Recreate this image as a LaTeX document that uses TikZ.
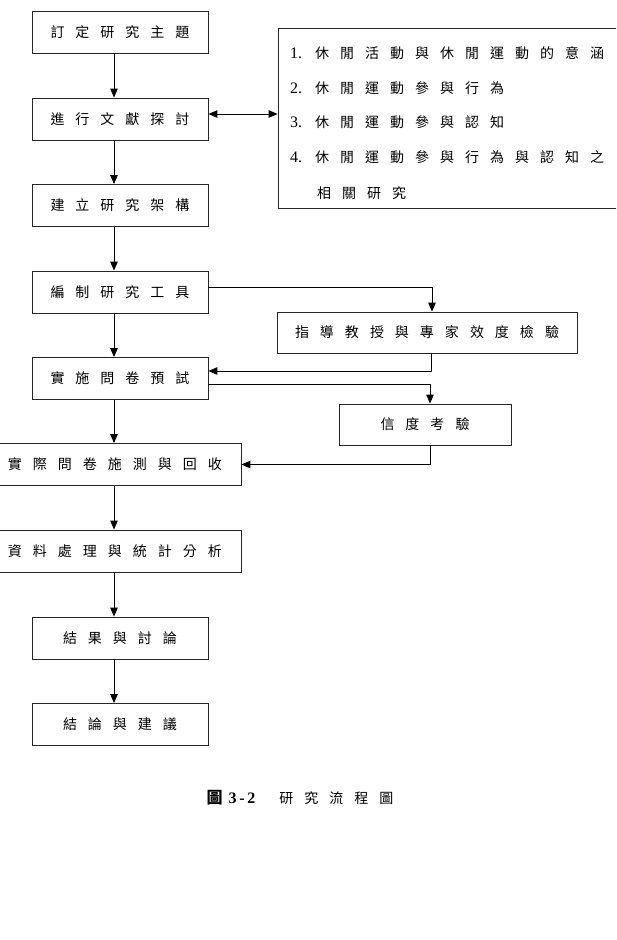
\documentclass[tikz,border=0pt]{standalone}
\usepackage{fontspec}
\setmainfont{Liberation Serif}
\newfontfamily\cjk{Noto Sans CJK TC}
\usetikzlibrary{arrows.meta}

% wide tracking between CJK characters
\newlength\cgap
\setlength\cgap{11pt}
\makeatletter
\def\spaced#1{\sp@loop#1\relax}
\def\sp@loop#1#2{#1\ifx\relax#2\else\hspace{\cgap}\expandafter\sp@loop\expandafter#2\fi}
\makeatother
\newcommand\cjktext{\cjk\fontsize{14}{14}\selectfont}

\tikzset{
  box/.style={draw=black!85, line width=0.85pt, minimum height=42pt, inner sep=0pt,
              font=\cjktext},
  item/.style={anchor=west, inner sep=0pt, font=\fontsize{16}{16}\selectfont},
  tip/.tip={Triangle[length=9pt,width=7.5pt]},
  arr/.style={line width=0.9pt, -tip},
  dbl/.style={line width=0.9pt, tip-tip},
}

\begin{document}
\begin{tikzpicture}[x=1pt, y=-1pt]
\path[use as bounding box] (0,0) rectangle (616,940);
\clip (0,0) rectangle (616,940);

% main column
\node[box, minimum width=176pt] (b1) at (120,32)    {\spaced{訂定研究主題}};
\node[box, minimum width=176pt] (b2) at (120,119)   {\spaced{進行文獻探討}};
\node[box, minimum width=176pt] (b3) at (120,205.5) {\spaced{建立研究架構}};
\node[box, minimum width=176pt] (b4) at (120,292)   {\spaced{編制研究工具}};
\node[box, minimum width=176pt] (b5) at (120,378.5) {\spaced{實施問卷預試}};
\node[box, minimum width=252pt] (b6) at (115,464.5) {\spaced{實際問卷施測與回收}};
\node[box, minimum width=252pt] (b7) at (115,551)   {\spaced{資料處理與統計分析}};
\node[box, minimum width=176pt] (b8) at (120,638)   {\spaced{結果與討論}};
\node[box, minimum width=176pt] (b9) at (120,724.5) {\spaced{結論與建議}};

% literature topics
\node[draw=black!85, line width=0.85pt, minimum width=350pt, minimum height=180pt, inner sep=0pt]
  (lit) at (453,118) {};
\node[item] (l1) at (290,53)  {1.\hspace{13pt}{\cjktext\spaced{休閒活動與休閒運動的意涵}}};
\node[item] (l2) at (290,88)  {2.\hspace{13pt}{\cjktext\spaced{休閒運動參與行為}}};
\node[item] (l3) at (290,122) {3.\hspace{13pt}{\cjktext\spaced{休閒運動參與認知}}};
\node[item] (l4) at (290,157) {4.\hspace{13pt}{\cjktext\spaced{休閒運動參與行為與認知之}}};
\node[item] (l5) at (317,193) {{\cjktext\spaced{相關研究}}};

% validity checks
\node[box, minimum width=300pt, minimum height=41pt] (s1) at (427,332.5) {\spaced{指導教授與專家效度檢驗}};
\node[box, minimum width=172pt, minimum height=41pt] (s2) at (425,424.5) {\spaced{信度考驗}};

% caption
\node[inner sep=0pt, font=\fontsize{16}{16}\selectfont] (cap) at (300,798)
  {{\cjk\bfseries 圖}\hspace{6pt}{\bfseries 3\,-\,2}\hspace{24pt}{\cjktext\spaced{研究流程圖}}};

% vertical flow
\coordinate (ax) at (114,0);
\draw[arr] (b1.south -| ax) -- (b2.north -| ax);
\draw[arr] (b2.south -| ax) -- (b3.north -| ax);
\draw[arr] (b3.south -| ax) -- (b4.north -| ax);
\draw[arr] (b4.south -| ax) -- (b5.north -| ax);
\draw[arr] (b5.south -| ax) -- (b6.north -| ax);
\draw[arr] (b6.south -| ax) -- (b7.north -| ax);
\draw[arr] (b7.south -| ax) -- (b8.north -| ax);
\draw[arr] (b8.south -| ax) -- (b9.north -| ax);

% literature review exchange
\draw[dbl] ([yshift=5pt]b2.east) -- ([yshift=5pt]b2.east -| lit.west);

% side loops
\draw[arr] ([yshift=5pt]b4.east) -| ([xshift=5pt]s1.north);
\draw[arr] ([xshift=4pt]s1.south) |- ([yshift=7.5pt]b5.east);
\draw[arr] ([yshift=-5.5pt]b5.east) -| ([xshift=5pt]s2.north);
\draw[arr] ([xshift=5pt]s2.south) |- (b6.east);
\end{tikzpicture}
\end{document}
